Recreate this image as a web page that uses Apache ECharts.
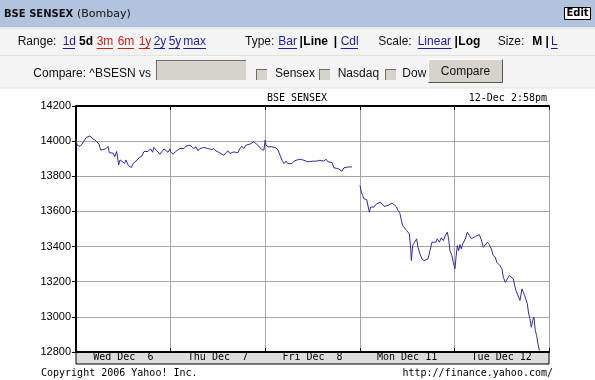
<!DOCTYPE html>
<html>
<head>
<meta charset="utf-8">
<style>
html,body{margin:0;padding:0;background:#fff;}
#chart{width:595px;height:380px;}
</style>
<script src="https://cdn.jsdelivr.net/npm/echarts@6.0.0/dist/echarts.min.js"></script>
</head>
<body>
<div id="chart"></div>
<script>
// ---- Data (intraday quotes: [percent of trading session, index value]) ----
const dayLabels = ['Wed Dec  6', 'Thu Dec  7', 'Fri Dec  8', 'Mon Dec 11', 'Tue Dec 12'];
const yMin = 12800, yMax = 14200, yStep = 200;

const wedQuotes = [[0,14011],[1.1,13979],[2.1,13989],[4.2,13970],[6.3,13983],[8.5,14002],[10.6,14020],[12.7,14027],[14.8,14030],[16.9,14017],[21.1,14002],[24.3,13983],[26.1,13949],[28.2,13960],[31.4,13956],[33.8,13970],[35.2,13935],[37.3,13945],[39.5,13931],[40.9,13912],[43,13941],[45.1,13865],[46.5,13893],[49,13884],[51.4,13874],[52.8,13893],[55.3,13861],[58.5,13850],[60.6,13874],[62.7,13884],[64.8,13893],[66.9,13907],[69.1,13912],[71.9,13941],[74,13945],[76.1,13941],[78.9,13956],[81,13937],[82.4,13964],[84.6,13950],[86.7,13941],[88.8,13926],[90.9,13941],[93,13956],[95.1,13945],[97.2,13937],[99.3,13956]];

const thuQuotes = [[0,13939],[1.4,13949],[2.8,13926],[4.9,13939],[7,13949],[9.9,13958],[12,13968],[14.1,13958],[16.2,13971],[18.3,13964],[20.4,13977],[22.5,13968],[24.6,13958],[26.8,13968],[28.9,13945],[31,13958],[33.1,13968],[35.2,13964],[37.3,13971],[39.4,13958],[41.5,13964],[43.6,13952],[45.8,13958],[47.9,13945],[50,13949],[52.1,13933],[54.2,13939],[56.3,13920],[58.4,13933],[60.5,13945],[62.7,13930],[64.8,13920],[66.9,13939],[69,13949],[71.1,13933],[73.2,13958],[75.3,13971],[77.4,13958],[79.6,13977],[81.7,13968],[83.8,13983],[85.9,13977],[88,13996],[90.1,13987],[92.2,13977],[94.3,13964],[96.4,13952],[98.6,13949]];

const friQuotes = [[0,14006],[0.8,13977],[3,13968],[5.1,13973],[7.2,13968],[9.3,13977],[11.4,13962],[13.5,13949],[15.6,13920],[17.8,13891],[19.9,13872],[22,13886],[24.1,13872],[26.2,13882],[28.3,13872],[30.4,13886],[32.6,13891],[34.7,13901],[36.8,13897],[38.9,13901],[41,13891],[43.1,13897],[45.2,13882],[47.3,13891],[49.5,13886],[51.6,13897],[53.7,13886],[55.8,13897],[57.9,13891],[60,13901],[62.1,13886],[64.3,13897],[66.4,13882],[68.5,13872],[70.6,13878],[72.7,13848],[74.8,13859],[76.9,13844],[79,13853],[81.2,13829],[83.3,13848],[85.4,13840],[87.5,13853],[89.6,13848],[91.7,13853]];

const monQuotes = [[0.2,13749],[1.6,13710],[3,13691],[4.4,13672],[5.8,13682],[7.3,13667],[8.7,13663],[10.1,13596],[11.5,13625],[12.9,13634],[15,13625],[17.1,13640],[19.2,13629],[21.3,13653],[23.5,13644],[25.6,13629],[27.7,13640],[29.8,13634],[31.9,13640],[34,13648],[36.1,13640],[38.3,13629],[40.4,13606],[42.5,13587],[43.9,13549],[45.3,13520],[47.4,13510],[49.5,13491],[50.9,13501],[52.4,13472],[53.8,13387],[54.5,13320],[55.9,13406],[58,13425],[60.1,13444],[61.5,13396],[63.6,13358],[65.7,13330],[67.9,13320],[70,13316],[72.1,13330],[74.2,13377],[76.3,13425],[78.4,13434],[80.5,13425],[81.9,13444],[84.1,13425],[86.2,13450],[88.3,13434],[90.4,13463],[92.5,13482],[93.9,13444],[95.3,13377],[97.4,13349],[98.8,13310]];

const tueQuotes = [[0.6,13273],[1.7,13339],[3.1,13406],[4.5,13377],[5.9,13411],[7.3,13387],[8.7,13415],[10.1,13411],[11.6,13444],[13.7,13482],[15.8,13463],[17.9,13444],[20,13453],[22.1,13457],[24.2,13463],[26.4,13468],[28.5,13438],[30.6,13396],[32.7,13396],[34.8,13425],[36.9,13411],[39,13387],[41.1,13349],[43.3,13339],[44.7,13311],[46.8,13320],[48.2,13292],[50.3,13273],[51.7,13226],[53.8,13197],[55.9,13216],[58.1,13235],[60.2,13241],[62.3,13216],[63.7,13178],[65.1,13150],[67.2,13140],[69.3,13093],[71.4,13159],[72.9,13140],[74.3,13121],[75.7,13112],[77.1,13074],[78.5,13017],[79.9,12989],[81.3,12941],[82.7,12979],[84.1,12998],[85.5,12922],[86.9,12894],[88.4,12846],[89.8,12808]];

// ---- build series data on a "trading day" axis (day index + session fraction) ----
function toAxis(quotes, dayIndex) {
  return quotes.map(q => [dayIndex + q[0] / 100, q[1]]);
}
const weekOne = [].concat(toAxis(wedQuotes, 0), toAxis(thuQuotes, 1), toAxis(friQuotes, 2));
const weekTwo = [].concat(toAxis(monQuotes, 3), toAxis(tueQuotes, 4));

// ---- page chrome (real text) ----
const UI = 'Liberation Sans, Arial, sans-serif';
const MONO = 'DejaVu Sans Mono, monospace';
const VERD = 'DejaVu Sans, Verdana, sans-serif';
const BLUE = '#1c1caa', RED = '#cc1c1c';
const g = [];
function rect(x, y, w, h, fill, stroke, lw) {
  g.push({type: 'rect', shape: {x, y, width: w, height: h}, style: {fill: fill, stroke: stroke || null, lineWidth: lw || 1}, silent: true});
}
function line(x1, y1, x2, y2, color, w) {
  g.push({type: 'line', shape: {x1, y1, x2, y2}, style: {stroke: color, lineWidth: w || 1}, silent: true});
}
function txt(x, y, s, o) {
  o = o || {};
  g.push({type: 'text', x: x, y: y, silent: true, style: {
    text: s, fill: o.color || '#000', font: (o.bold ? 'bold ' : '') + (o.size || 12) + 'px ' + (o.family || UI),
    textAlign: o.align || 'left', textVerticalAlign: 'middle'}});
}
function link(x, y, s, w, color) {
  txt(x, y, s, {color: color});
  line(x, y + 6.5, x + w, y + 6.5, color, 1);
}
// header bar
rect(0, 0, 595, 27.5, '#b2c4dd');
txt(4, 14, 'BSE SENSEX', {bold: true, size: 10, family: VERD, color: '#111'});
txt(77, 14, '(Bombay)', {size: 11, family: VERD, color: '#111'});
rect(564.5, 7.5, 26, 12, '#ffffff', '#000', 1);
txt(577.5, 13.8, 'Edit', {bold: true, size: 10, family: VERD, align: 'center'});
// rows
rect(0, 27.5, 595, 60.5, '#f4f4f4');
line(0, 28, 595, 28, '#e4e4e4');
line(0, 55.5, 595, 55.5, '#e2e2e2');
line(0, 88, 595, 88, '#e2e2e2');
const R2 = 42;
txt(17.7, R2, 'Range:', {color: '#111'});
link(62.7, R2, '1d', 12.3, BLUE);
txt(79, R2, '5d', {bold: true});
link(96.7, R2, '3m', 16.3, RED);
link(117.7, R2, '6m', 16.3, RED);
link(138.7, R2, '1y', 11.3, RED);
link(153.7, R2, '2y', 11.3, BLUE);
link(168.7, R2, '5y', 11.3, BLUE);
link(183.3, R2, 'max', 22.7, BLUE);
txt(245, R2, 'Type:', {color: '#111'});
link(278.3, R2, 'Bar', 18.7, BLUE);
txt(299.5, R2, '|', {bold: true});
txt(303.3, R2, 'Line', {bold: true});
txt(333.8, R2, '|', {bold: true});
link(340.7, R2, 'Cdl', 17.3, BLUE);
txt(378.3, R2, 'Scale:', {color: '#111'});
link(417.7, R2, 'Linear', 34, BLUE);
txt(454.5, R2, '|', {bold: true});
txt(458.3, R2, 'Log', {bold: true});
txt(497.7, R2, 'Size:', {color: '#111'});
txt(532.3, R2, 'M', {bold: true});
txt(545.5, R2, '|', {bold: true});
link(551, R2, 'L', 6.7, BLUE);
const R3 = 73.5;
txt(33.3, R3, 'Compare: ^BSESN vs', {color: '#111'});
function sunken(x, y, w, h) {
  rect(x, y, w, h, '#d6d3cc');
  line(x, y + 0.5, x + w, y + 0.5, '#6e6e6e');
  line(x + 0.5, y, x + 0.5, y + h, '#6e6e6e');
  line(x, y + h - 0.5, x + w, y + h - 0.5, '#f4f4f4');
  line(x + w - 0.5, y, x + w - 0.5, y + h, '#f4f4f4');
}
sunken(156, 60, 91, 21);
sunken(256, 69, 12, 12);
txt(275, R3, 'Sensex', {color: '#111'});
sunken(319, 69, 12, 12);
txt(337.7, R3, 'Nasdaq', {color: '#111'});
sunken(385, 69, 12, 12);
txt(402.3, R3, 'Dow', {color: '#111'});
rect(428.5, 59.5, 74, 23, '#d6d3cc');
line(428.5, 59.5, 502.5, 59.5, '#ffffff'); line(428.5, 59.5, 428.5, 82.5, '#ffffff');
line(428.5, 82.5, 502.5, 82.5, '#555'); line(502.5, 59.5, 502.5, 82.5, '#555');
txt(465.5, 71.5, 'Compare', {color: '#111', align: 'center'});
// chart captions
txt(297, 98.5, 'BSE SENSEX', {family: MONO, size: 10, align: 'center'});
txt(547, 98.5, '12-Dec 2:58pm', {family: MONO, size: 10, align: 'right'});
txt(41, 373.5, 'Copyright 2006 Yahoo! Inc.', {family: MONO, size: 10});
txt(553, 373.5, 'http://finance.yahoo.com/', {family: MONO, size: 10, align: 'right'});

const chart = echarts.init(document.getElementById('chart'), null, {renderer: 'canvas'});
const lineStyle = {color: '#2e2ea6', width: 1};
chart.setOption({
  animation: false,
  backgroundColor: '#ffffff',
  graphic: {elements: g},
  grid: [
    {left: 76, right: 46, top: 106, height: 246, containLabel: false},
    {left: 76, right: 46, top: 352, height: 12, show: true, backgroundColor: '#dcdcdc', borderColor: '#000', borderWidth: 1}
  ],
  xAxis: [
    {type: 'value', gridIndex: 0, min: 0, max: dayLabels.length, interval: 1, position: 'bottom',
     axisLine: {show: true, lineStyle: {color: '#000', width: 2}},
     axisTick: {show: true, inside: true, length: 4, lineStyle: {color: '#000'}},
     axisLabel: {show: false},
     splitLine: {show: true, lineStyle: {color: '#a4a4a4', width: 1}}},
    {type: 'value', gridIndex: 0, min: 0, max: dayLabels.length, interval: 1, position: 'top',
     axisLine: {show: true, lineStyle: {color: '#000', width: 2}},
     axisTick: {show: true, inside: true, length: 4, lineStyle: {color: '#000'}},
     axisLabel: {show: false}, splitLine: {show: false}},
    {type: 'category', gridIndex: 1, data: dayLabels, position: 'top', boundaryGap: true,
     axisLine: {show: false}, axisTick: {show: false}, splitLine: {show: false},
     axisLabel: {inside: true, margin: 0, interval: 0, fontFamily: MONO, fontSize: 10, color: '#000'}}
  ],
  yAxis: [
    {type: 'value', gridIndex: 0, min: yMin, max: yMax, interval: yStep, position: 'left',
     axisLine: {show: true, lineStyle: {color: '#000', width: 2}},
     axisTick: {show: false},
     axisLabel: {margin: 5, fontSize: 11, fontFamily: UI, color: '#000', formatter: v => String(v)},
     splitLine: {show: true, lineStyle: {color: '#a4a4a4', width: 1}}},
    {type: 'value', gridIndex: 0, min: yMin, max: yMax, interval: yStep, position: 'right',
     axisLine: {show: true, lineStyle: {color: '#000', width: 1}},
     axisTick: {show: true, inside: true, length: 4, lineStyle: {color: '#000'}},
     axisLabel: {show: false}, splitLine: {show: false}},
    {type: 'value', gridIndex: 1, show: false}
  ],
  series: [
    {type: 'line', xAxisIndex: 0, yAxisIndex: 0, data: weekOne, showSymbol: false, symbol: 'none', lineStyle: lineStyle, z: 5},
    {type: 'line', xAxisIndex: 0, yAxisIndex: 0, data: weekTwo, showSymbol: false, symbol: 'none', lineStyle: lineStyle, z: 5}
  ]
});
</script>
</body>
</html>
